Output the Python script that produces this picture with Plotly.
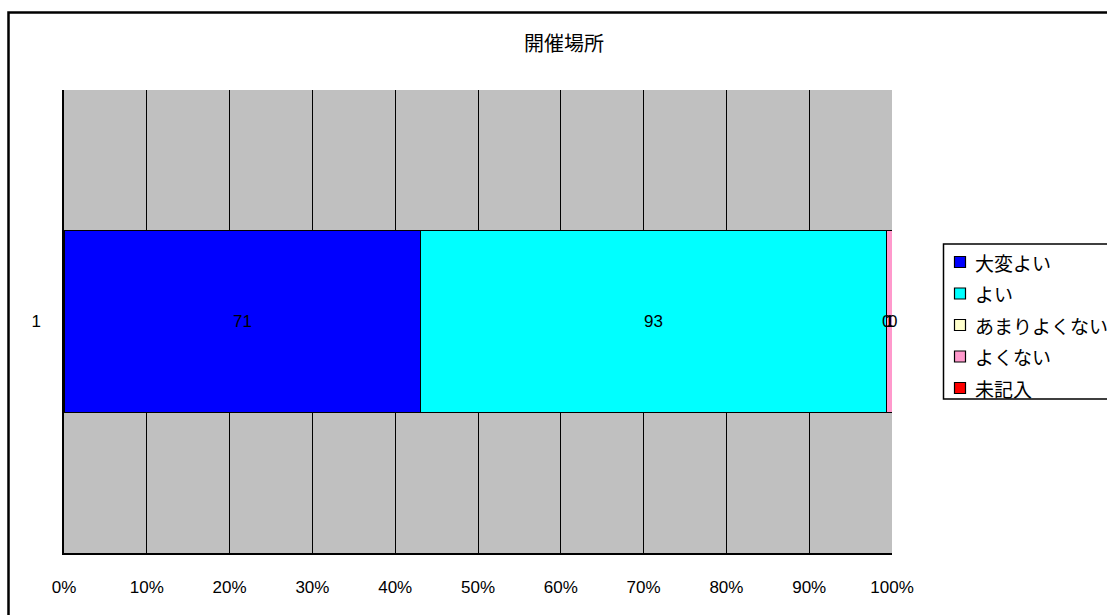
import plotly.graph_objects as go

# Survey answers for "開催場所" (single respondent group "1")
category = ["1"]
series_names = ["大変よい", "よい", "あまりよくない", "よくない", "未記入"]
series_values = [71, 93, 0, 1, 0]
series_colors = ["#0000FF", "#00FFFF", "#FFFFCC", "#FF99CC", "#FF0000"]
tick_values = [0, 10, 20, 30, 40, 50, 60, 70, 80, 90, 100]
tick_labels = ["0%", "10%", "20%", "30%", "40%", "50%", "60%", "70%", "80%", "90%", "100%"]
title_text = "開催場所"

W, H = 1107, 615
L, R, T, B = 64, 892, 90, 553  # plot area in pixels

NUM_FONT = "Liberation Sans, Arial, sans-serif"
JP_FONT = "Noto Sans CJK JP, sans-serif"


def px_x(px):
    return (px - L) / (R - L)


def px_y(py):
    return (B - py) / (B - T)


fig = go.Figure()
for name, val, col in zip(series_names, series_values, series_colors):
    fig.add_trace(go.Bar(
        y=category, x=[val], name=name, orientation="h",
        marker=dict(color=col, line=dict(color="black", width=1)),
        width=0.395, showlegend=False, hoverinfo="name+x",
    ))

# value labels centred on each stacked segment
total = sum(series_values)
annotations = []
cum = 0
for val in series_values:
    centre = (cum + val / 2) / total * 100
    annotations.append(dict(
        x=centre, y=0, xref="x", yref="y", text=str(val), showarrow=False,
        font=dict(family=NUM_FONT, size=17, color="black"),
    ))
    cum += val

# title
annotations.append(dict(
    x=px_x(564), y=px_y(43), xref="paper", yref="paper", text=title_text,
    showarrow=False, font=dict(family=JP_FONT, size=20, color="black"),
    xanchor="center", yanchor="middle",
))

shapes = []
# outer chart frame
shapes.append(dict(
    type="rect", xref="paper", yref="paper",
    x0=px_x(8.5), x1=px_x(1125), y0=px_y(640), y1=px_y(12.5),
    line=dict(color="black", width=2.5), fillcolor="rgba(0,0,0,0)", layer="below",
))
# legend frame
shapes.append(dict(
    type="rect", xref="paper", yref="paper",
    x0=px_x(943.5), x1=px_x(1125), y0=px_y(399), y1=px_y(244),
    line=dict(color="black", width=1.5), fillcolor="white",
))

row_y0, row_step = 262, 31.5
for i, (name, col) in enumerate(zip(series_names, series_colors)):
    cy = row_y0 + i * row_step
    shapes.append(dict(
        type="rect", xref="paper", yref="paper",
        x0=px_x(954.5), x1=px_x(965.5), y0=px_y(cy + 5.5), y1=px_y(cy - 5.5),
        line=dict(color="black", width=1.2), fillcolor=col,
    ))
    annotations.append(dict(
        x=px_x(973), y=px_y(cy), xref="paper", yref="paper", text=name,
        showarrow=False, xanchor="left", yanchor="middle",
        font=dict(family=JP_FONT, size=19, color="black"),
    ))

fig.update_layout(
    width=W, height=H,
    margin=dict(l=L, r=W - R, t=T, b=H - B, pad=0),
    barmode="stack", barnorm="percent",
    paper_bgcolor="white", plot_bgcolor="#C0C0C0",
    showlegend=False,
    annotations=annotations, shapes=shapes,
    xaxis=dict(
        range=[0, 100], tickvals=tick_values, ticktext=tick_labels,
        showgrid=True, gridcolor="black", gridwidth=1,
        showline=True, linecolor="black", linewidth=1.5,
        zeroline=False, ticks="", ticklabelstandoff=18,
        tickfont=dict(family=NUM_FONT, size=17, color="black"),
        fixedrange=True,
    ),
    yaxis=dict(
        range=[-0.5, 0.5], showgrid=False, zeroline=False,
        showline=True, linecolor="black", linewidth=1.5,
        ticks="", ticklabelstandoff=18,
        tickfont=dict(family=NUM_FONT, size=17, color="black"),
        fixedrange=True,
    ),
)

fig.write_html("out.html")
